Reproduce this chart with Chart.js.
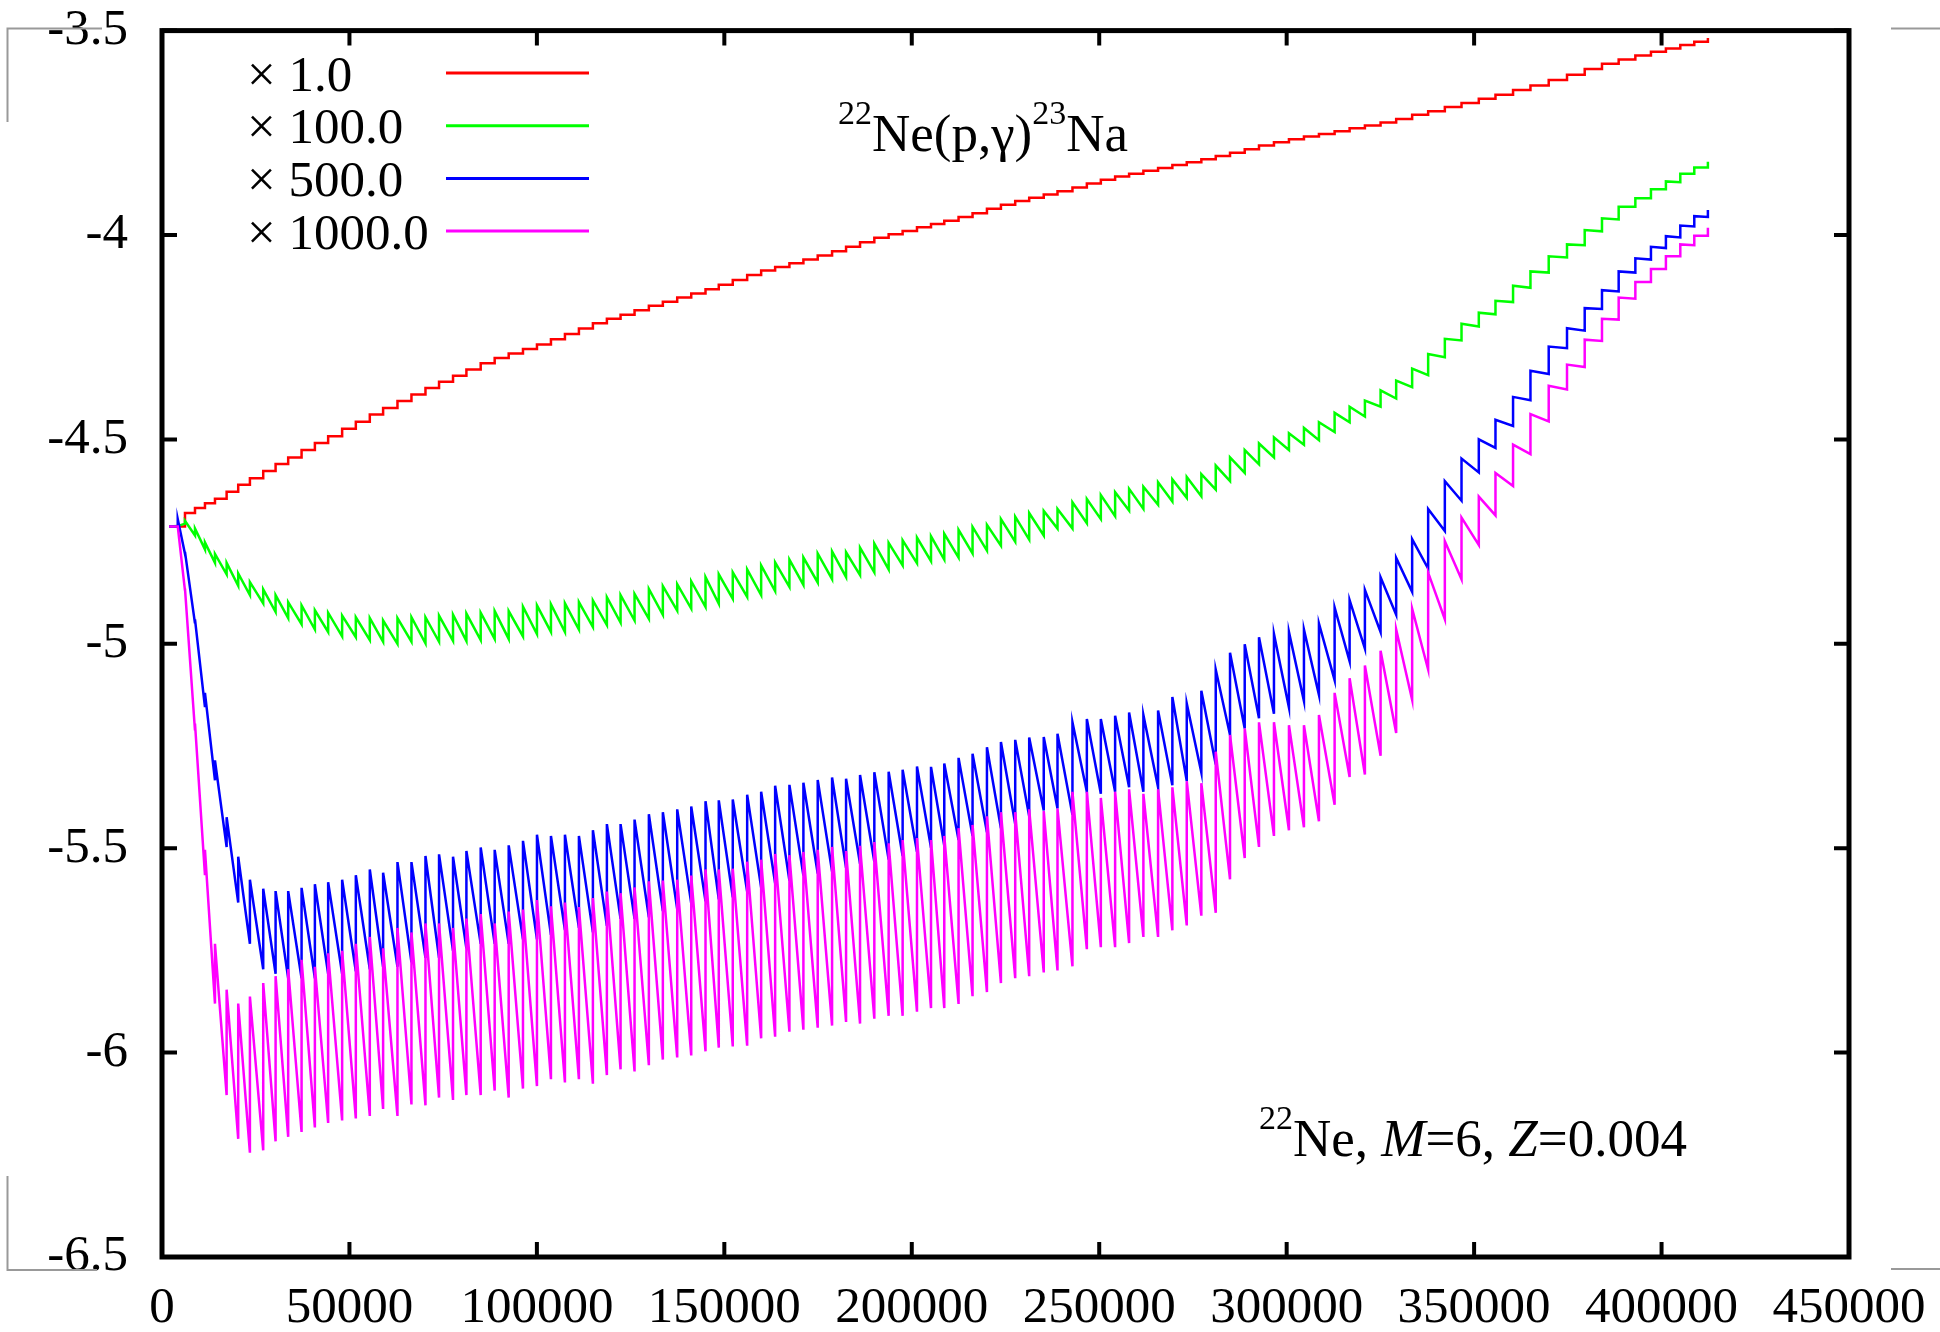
<!DOCTYPE html>
<html>
<head>
<meta charset="utf-8">
<title>22Ne(p,gamma)23Na</title>
<script src="https://cdn.jsdelivr.net/npm/chart.js@4.4.1/dist/chart.umd.min.js"></script>
<style>
  html, body { margin: 0; padding: 0; background: #fff; }
  #chart { display: block; }
</style>
</head>
<body>
<canvas id="chart" width="1940" height="1332"></canvas>
<script>
// Time of each thermal pulse (years); first two are the start, last is the end of the run
const tYears = [1900, 4200,
  6130, 8800, 11460, 14130, 17240, 20330, 23450, 27000, 30300, 33660,
  37230, 40780, 44320, 48050, 51700, 55430, 58980, 62810, 66540, 70280,
  73900, 77630, 81200, 85010, 88740, 92480, 96290, 100020, 103750, 107480,
  111210, 114940, 118670, 122320, 126050, 129870, 133600, 137430, 141170, 144980,
  148520, 152250, 156090, 159820, 163550, 167360, 171090, 174910, 178740, 182470,
  186200, 190010, 193830, 197560, 201390, 205130, 208670, 212480, 216210, 220050,
  223780, 227590, 231320, 235200, 238870, 242860, 246700, 250430, 254240, 257970,
  261780, 265700, 269510, 273350, 277240, 281080, 284890, 288810, 292620, 296610,
  300610, 304610, 308610, 312790, 316790, 320870, 325050, 329210, 333470, 337740,
  342190, 346640, 351250, 355700, 360390, 365030, 369900, 374780, 379500, 384110,
  388560, 393010, 397170, 401160, 405000, 408730,
  412360];

// x 1.0 : level after each pulse (staircase)
const redLevel = [-4.713, -4.713,
  -4.680, -4.668, -4.656, -4.645, -4.628, -4.611, -4.595, -4.577, -4.560, -4.544,
  -4.526, -4.509, -4.492, -4.474, -4.457, -4.439, -4.423, -4.406, -4.390, -4.374,
  -4.359, -4.344, -4.329, -4.314, -4.301, -4.290, -4.279, -4.268, -4.255, -4.242,
  -4.229, -4.216, -4.205, -4.195, -4.184, -4.173, -4.163, -4.153, -4.143, -4.133,
  -4.122, -4.110, -4.098, -4.087, -4.078, -4.069, -4.060, -4.050, -4.040, -4.029,
  -4.018, -4.007, -3.998, -3.990, -3.981, -3.973, -3.965, -3.956, -3.947, -3.936,
  -3.926, -3.917, -3.909, -3.901, -3.893, -3.884, -3.874, -3.865, -3.857, -3.850,
  -3.843, -3.836, -3.829, -3.822, -3.815, -3.807, -3.799, -3.790, -3.781, -3.773,
  -3.766, -3.759, -3.753, -3.746, -3.739, -3.732, -3.725, -3.716, -3.706, -3.697,
  -3.687, -3.677, -3.667, -3.657, -3.645, -3.634, -3.621, -3.608, -3.594, -3.581,
  -3.571, -3.561, -3.552, -3.544, -3.535, -3.527,
  -3.518];

// x 100.0 : value just before (lo) and just after (hi) each pulse
const greenLo = [-4.713, -4.712,
  -4.706, -4.735, -4.769, -4.802, -4.830, -4.858, -4.881, -4.901, -4.922, -4.937,
  -4.952, -4.965, -4.971, -4.982, -4.984, -4.991, -4.995, -5.000, -4.995, -4.999,
  -4.995, -4.993, -4.993, -4.991, -4.988, -4.988, -4.982, -4.976, -4.971, -4.971,
  -4.965, -4.959, -4.954, -4.948, -4.943, -4.939, -4.929, -4.919, -4.914, -4.910,
  -4.902, -4.890, -4.885, -4.881, -4.871, -4.861, -4.856, -4.850, -4.842, -4.837,
  -4.832, -4.825, -4.818, -4.808, -4.803, -4.798, -4.794, -4.789, -4.779, -4.772,
  -4.760, -4.750, -4.745, -4.735, -4.718, -4.718, -4.705, -4.695, -4.688, -4.674,
  -4.670, -4.660, -4.652, -4.643, -4.639, -4.623, -4.602, -4.582, -4.561, -4.544,
  -4.526, -4.513, -4.502, -4.482, -4.458, -4.444, -4.420, -4.400, -4.372, -4.343,
  -4.299, -4.258, -4.224, -4.194, -4.164, -4.129, -4.092, -4.055, -4.025, -3.991,
  -3.962, -3.931, -3.910, -3.888, -3.871, -3.850,
  -3.835];
const greenHi = [-4.713, -4.712,
  -4.699, -4.718, -4.752, -4.780, -4.802, -4.828, -4.849, -4.867, -4.881, -4.898,
  -4.906, -4.918, -4.924, -4.931, -4.935, -4.937, -4.943, -4.937, -4.935, -4.935,
  -4.931, -4.929, -4.926, -4.924, -4.920, -4.920, -4.909, -4.906, -4.903, -4.901,
  -4.898, -4.894, -4.886, -4.881, -4.878, -4.866, -4.859, -4.854, -4.847, -4.837,
  -4.830, -4.825, -4.818, -4.808, -4.801, -4.794, -4.789, -4.779, -4.774, -4.776,
  -4.765, -4.755, -4.753, -4.747, -4.740, -4.737, -4.731, -4.721, -4.714, -4.709,
  -4.695, -4.689, -4.680, -4.675, -4.670, -4.654, -4.646, -4.636, -4.629, -4.621,
  -4.616, -4.605, -4.598, -4.592, -4.585, -4.564, -4.544, -4.526, -4.510, -4.495,
  -4.485, -4.472, -4.458, -4.435, -4.420, -4.405, -4.380, -4.356, -4.327, -4.291,
  -4.254, -4.217, -4.190, -4.161, -4.124, -4.089, -4.052, -4.023, -3.988, -3.959,
  -3.931, -3.910, -3.888, -3.869, -3.850, -3.835,
  -3.821];

// x 500.0
const blueLo = [-4.713, -4.713,
  -4.780, -4.950, -5.155, -5.334, -5.497, -5.633, -5.734, -5.796, -5.807, -5.818,
  -5.818, -5.818, -5.807, -5.807, -5.801, -5.796, -5.790, -5.790, -5.779, -5.768,
  -5.768, -5.751, -5.745, -5.734, -5.734, -5.734, -5.723, -5.723, -5.712, -5.700,
  -5.695, -5.706, -5.690, -5.673, -5.673, -5.669, -5.654, -5.649, -5.635, -5.630,
  -5.625, -5.620, -5.606, -5.596, -5.586, -5.579, -5.567, -5.562, -5.557, -5.548,
  -5.538, -5.533, -5.528, -5.519, -5.509, -5.499, -5.494, -5.480, -5.470, -5.461,
  -5.451, -5.441, -5.422, -5.408, -5.403, -5.418, -5.362, -5.367, -5.362, -5.351,
  -5.362, -5.351, -5.346, -5.336, -5.315, -5.295, -5.223, -5.207, -5.182, -5.171,
  -5.156, -5.140, -5.125, -5.089, -5.043, -5.012, -4.971, -4.929, -4.873, -4.816,
  -4.724, -4.650, -4.581, -4.521, -4.467, -4.404, -4.340, -4.277, -4.234, -4.181,
  -4.138, -4.092, -4.060, -4.032, -4.006, -3.979,
  -3.956];
const blueHi = [-4.713, -4.695,
  -4.775, -4.940, -5.120, -5.285, -5.424, -5.521, -5.577, -5.599, -5.605, -5.605,
  -5.597, -5.588, -5.583, -5.577, -5.566, -5.552, -5.560, -5.534, -5.534, -5.519,
  -5.515, -5.521, -5.507, -5.498, -5.504, -5.493, -5.482, -5.467, -5.470, -5.467,
  -5.470, -5.456, -5.441, -5.441, -5.430, -5.417, -5.412, -5.405, -5.398, -5.385,
  -5.383, -5.381, -5.369, -5.362, -5.347, -5.345, -5.340, -5.333, -5.327, -5.330,
  -5.321, -5.314, -5.313, -5.308, -5.300, -5.301, -5.293, -5.279, -5.269, -5.253,
  -5.240, -5.235, -5.229, -5.228, -5.220, -5.192, -5.184, -5.184, -5.176, -5.168,
  -5.174, -5.163, -5.130, -5.146, -5.115, -5.063, -5.022, -5.001, -4.984, -4.976,
  -4.971, -4.965, -4.950, -4.911, -4.893, -4.868, -4.837, -4.790, -4.744, -4.670,
  -4.602, -4.547, -4.500, -4.452, -4.396, -4.332, -4.273, -4.228, -4.179, -4.135,
  -4.089, -4.057, -4.029, -4.003, -3.977, -3.954,
  -3.939];

// x 1000.0
const magLo = [-4.713, -4.713,
  -4.870, -5.212, -5.566, -5.880, -6.104, -6.211, -6.245, -6.239, -6.217, -6.206,
  -6.194, -6.183, -6.172, -6.166, -6.161, -6.155, -6.138, -6.155, -6.127, -6.129,
  -6.110, -6.116, -6.104, -6.104, -6.093, -6.110, -6.088, -6.082, -6.065, -6.073,
  -6.065, -6.076, -6.055, -6.041, -6.046, -6.031, -6.017, -6.012, -6.007, -5.997,
  -5.988, -5.985, -5.983, -5.965, -5.961, -5.949, -5.944, -5.939, -5.934, -5.925,
  -5.929, -5.917, -5.910, -5.910, -5.900, -5.891, -5.891, -5.881, -5.862, -5.852,
  -5.830, -5.818, -5.813, -5.804, -5.799, -5.789, -5.747, -5.742, -5.742, -5.732,
  -5.717, -5.717, -5.701, -5.689, -5.665, -5.658, -5.576, -5.524, -5.497, -5.470,
  -5.456, -5.449, -5.434, -5.394, -5.326, -5.320, -5.274, -5.218, -5.137, -5.063,
  -4.940, -4.842, -4.758, -4.686, -4.614, -4.536, -4.456, -4.378, -4.323, -4.259,
  -4.207, -4.156, -4.115, -4.083, -4.052, -4.025,
  -4.002];
const magHi = [-4.713, -4.713,
  -4.865, -5.195, -5.504, -5.734, -5.846, -5.880, -5.863, -5.830, -5.813, -5.796,
  -5.773, -5.790, -5.757, -5.751, -5.734, -5.717, -5.745, -5.695, -5.706, -5.684,
  -5.684, -5.695, -5.672, -5.661, -5.684, -5.655, -5.650, -5.627, -5.642, -5.633,
  -5.644, -5.622, -5.606, -5.610, -5.596, -5.581, -5.579, -5.577, -5.567, -5.552,
  -5.552, -5.550, -5.533, -5.528, -5.514, -5.517, -5.509, -5.504, -5.497, -5.507,
  -5.494, -5.485, -5.488, -5.480, -5.475, -5.480, -5.470, -5.451, -5.443, -5.422,
  -5.412, -5.412, -5.405, -5.409, -5.403, -5.362, -5.362, -5.377, -5.362, -5.356,
  -5.367, -5.356, -5.351, -5.336, -5.341, -5.264, -5.223, -5.207, -5.192, -5.192,
  -5.199, -5.199, -5.174, -5.120, -5.084, -5.053, -5.017, -4.965, -4.914, -4.826,
  -4.749, -4.691, -4.640, -4.582, -4.513, -4.438, -4.369, -4.317, -4.256, -4.205,
  -4.153, -4.115, -4.083, -4.052, -4.023, -4.002,
  -3.982];

const seriesLabels = ['\u00d7 1.0', '\u00d7 100.0', '\u00d7 500.0', '\u00d7 1000.0'];
const seriesColors = ['#ff0000', '#00ff00', '#0000ff', '#ff00ff'];

const xTicks = [0, 50000, 100000, 150000, 200000, 250000, 300000, 350000, 400000, 450000];
const yTicks = [-6.5, -6, -5.5, -5, -4.5, -4, -3.5];

const FONT = 'Liberation Serif';

// Sawtooth: at every pulse the line jumps from lo to hi
function pulsePoints(lo, hi) {
  const pts = [];
  tYears.forEach((t, i) => {
    pts.push({ x: t, y: lo[i] });
    pts.push({ x: t, y: hi[i] });
  });
  return pts;
}

function drawRich(ctx, x, baseline, parts) {
  ctx.textAlign = 'left';
  ctx.textBaseline = 'alphabetic';
  parts.forEach(p => {
    const size = p.sup ? 34 : 53;
    ctx.font = (p.italic ? 'italic ' : '') + size + 'px "' + FONT + '"';
    const y = p.sup ? baseline - 27 : baseline;
    ctx.fillText(p.t, x, y);
    x += ctx.measureText(p.t).width;
  });
}

// Frame, inward ticks, crop marks, legend and labels
const decorPlugin = {
  id: 'decor',
  afterDatasetsDraw(chart) {
    const ctx = chart.ctx;
    const area = chart.chartArea;
    const xs = chart.scales.x;
    const ys = chart.scales.y;
    const tl = 15;

    ctx.save();
    ctx.strokeStyle = '#000';
    ctx.lineWidth = 4;
    ctx.lineCap = 'butt';
    xTicks.forEach(v => {
      const px = xs.getPixelForValue(v);
      ctx.beginPath();
      ctx.moveTo(px, area.bottom); ctx.lineTo(px, area.bottom - tl);
      ctx.moveTo(px, area.top); ctx.lineTo(px, area.top + tl);
      ctx.stroke();
    });
    yTicks.forEach(v => {
      const py = ys.getPixelForValue(v);
      ctx.beginPath();
      ctx.moveTo(area.left, py); ctx.lineTo(area.left + tl, py);
      ctx.moveTo(area.right, py); ctx.lineTo(area.right - tl, py);
      ctx.stroke();
    });
    ctx.lineWidth = 5;
    ctx.lineJoin = 'miter';
    ctx.strokeRect(area.left, area.top, area.right - area.left, area.bottom - area.top);

    // crop marks
    ctx.strokeStyle = '#999';
    ctx.lineWidth = 2;
    ctx.beginPath();
    ctx.moveTo(7.5, 122); ctx.lineTo(7.5, 28.5); ctx.lineTo(102, 28.5);
    ctx.moveTo(7.5, 1176); ctx.lineTo(7.5, 1270); ctx.lineTo(97, 1270);
    ctx.moveTo(1891, 28.5); ctx.lineTo(1940, 28.5);
    ctx.moveTo(1891, 1269); ctx.lineTo(1940, 1269);
    ctx.stroke();

    // legend
    ctx.fillStyle = '#000';
    ctx.font = '51px "' + FONT + '"';
    ctx.textAlign = 'left';
    ctx.textBaseline = 'alphabetic';
    seriesLabels.forEach((lab, i) => {
      const y = 73 + i * 52.7;
      ctx.fillText(lab, 247, y + 17.5);
      ctx.strokeStyle = seriesColors[i];
      ctx.lineWidth = 3;
      ctx.beginPath();
      ctx.moveTo(446, y); ctx.lineTo(589, y);
      ctx.stroke();
    });

    drawRich(ctx, 838, 151, [
      { t: '22', sup: true }, { t: 'Ne(p,\u03b3)' }, { t: '23', sup: true }, { t: 'Na' }
    ]);
    drawRich(ctx, 1259, 1156, [
      { t: '22', sup: true }, { t: 'Ne, ' }, { t: 'M', italic: true }, { t: '=6, ' },
      { t: 'Z', italic: true }, { t: '=0.004' }
    ]);
    ctx.restore();
  }
};

const tickFont = { family: FONT, size: 51 };

new Chart(document.getElementById('chart').getContext('2d'), {
  type: 'line',
  data: {
    datasets: [
      { label: seriesLabels[0], data: tYears.map((t, i) => ({ x: t, y: redLevel[i] })),
        borderColor: seriesColors[0], stepped: 'before', order: 4 },
      { label: seriesLabels[1], data: pulsePoints(greenLo, greenHi), borderColor: seriesColors[1], order: 3 },
      { label: seriesLabels[2], data: pulsePoints(blueLo, blueHi), borderColor: seriesColors[2], order: 2 },
      { label: seriesLabels[3], data: pulsePoints(magLo, magHi), borderColor: seriesColors[3], order: 1 }
    ]
  },
  options: {
    responsive: false,
    animation: false,
    devicePixelRatio: 1,
    layout: { padding: { left: 0, right: 91, top: 30, bottom: 0 } },
    elements: {
      line: { borderWidth: 2.5, tension: 0, fill: false },
      point: { radius: 0, hoverRadius: 0 }
    },
    plugins: {
      legend: { display: false },
      tooltip: { enabled: false }
    },
    events: [],
    scales: {
      x: {
        type: 'linear', min: 0, max: 450000,
        afterFit: s => { s.height = 75; },
        // tick marks are drawn by the plugin; tickLength only offsets the labels
        grid: { display: false, drawTicks: true, tickLength: 21 },
        border: { display: false },
        afterBuildTicks: s => { s.ticks = xTicks.map(v => ({ value: v })); },
        ticks: {
          autoSkip: false, maxRotation: 0, padding: 0, color: '#000', font: tickFont,
          callback: v => String(v)
        }
      },
      y: {
        type: 'linear', min: -6.5, max: -3.5,
        afterFit: s => { s.width = 162; },
        grid: { display: false, drawTicks: true, tickLength: 34 },
        border: { display: false },
        afterBuildTicks: s => { s.ticks = yTicks.map(v => ({ value: v })); },
        ticks: {
          padding: 0, color: '#000', font: tickFont,
          callback: v => String(v)
        }
      }
    }
  },
  plugins: [decorPlugin]
});
</script>
</body>
</html>
